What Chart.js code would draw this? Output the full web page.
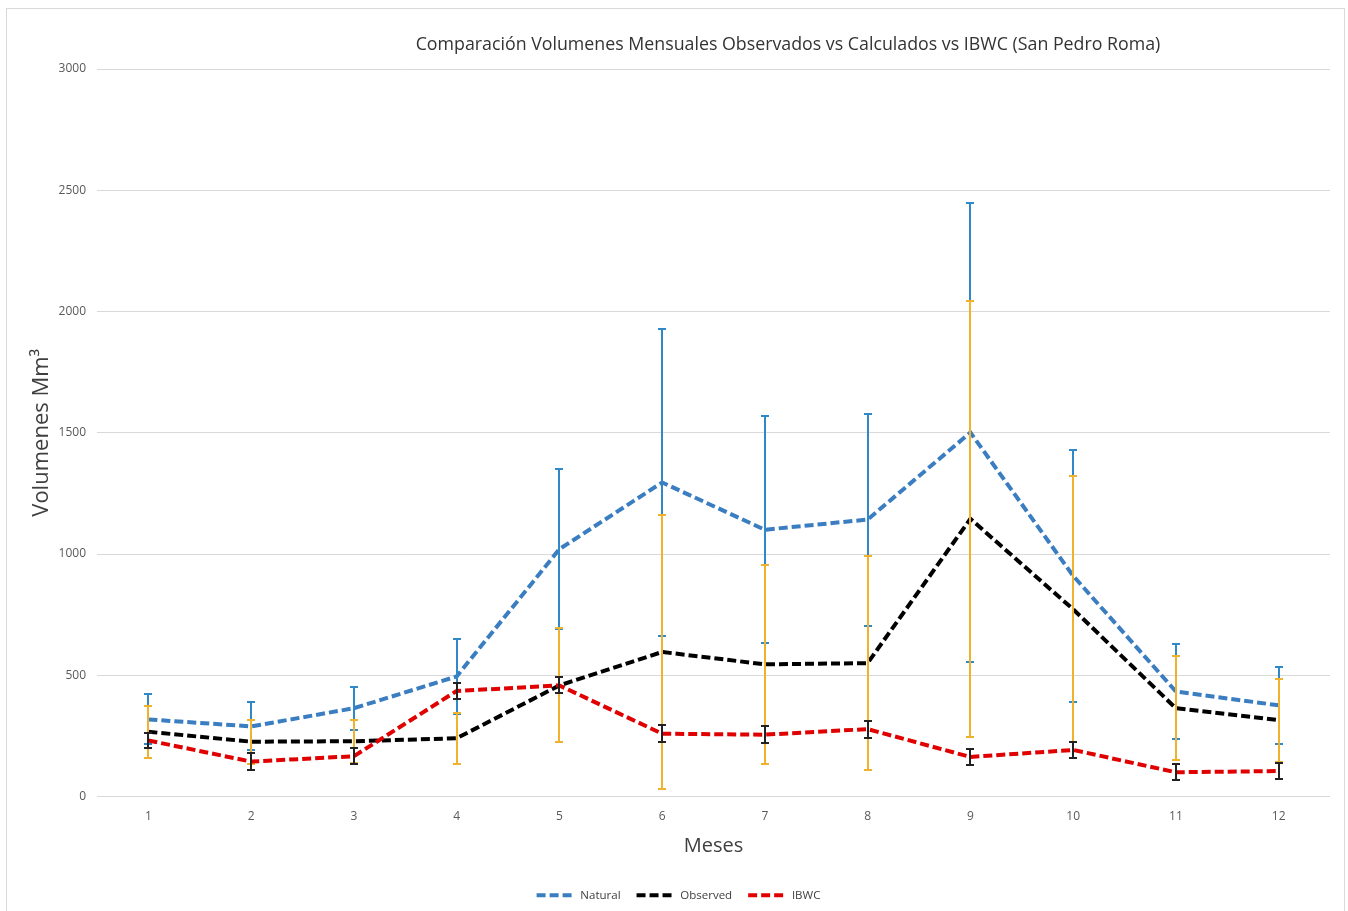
<!DOCTYPE html>
<html>
<head>
<meta charset="utf-8">
<script src="https://cdn.jsdelivr.net/npm/chart.js@4.4.1/dist/chart.umd.min.js"></script>
<style>
  html, body { margin: 0; padding: 0; background: #ffffff; }
  #wrap { position: relative; width: 1348px; height: 911px; }
</style>
</head>
<body>
<div id="wrap"><canvas id="chart" width="1348" height="911"></canvas></div>
<script>
// Monthly volumes (Mm³) for San Pedro Roma
const months = ['1', '2', '3', '4', '5', '6', '7', '8', '9', '10', '11', '12'];
const natural = [318, 289, 364, 495, 1020, 1295, 1100, 1142, 1501, 910, 433, 376];
const naturalErr = [103, 99, 89, 153, 330, 632, 468, 437, 945, 520, 197, 159];
const observed = [267, 226, 228, 240, 458, 596, 545, 550, 1145, 772, 364, 315];
const observedErr = [108, 90, 88, 106, 235, 565, 410, 440, 900, 548, 215, 171];
const ibwc = [231, 144, 166, 435, 458, 259, 255, 278, 163, 192, 100, 105];
const ibwcErr = [31, 36, 32, 32, 33, 34, 34, 35, 32, 33, 33, 32];
const yTicks = [0, 500, 1000, 1500, 2000, 2500, 3000];

const titleText = 'Comparación Volumenes Mensuales Observados vs Calculados vs IBWC (San Pedro Roma)';
const FONT = '"Open Sans", "Liberation Sans", sans-serif';

// Outer frame and chart title
const framePlugin = {
  id: 'frame',
  beforeDraw(chart) {
    const ctx = chart.ctx;
    ctx.save();
    ctx.fillStyle = '#ffffff';
    ctx.fillRect(0, 0, chart.width, chart.height);
    ctx.strokeStyle = '#d9d9d9';
    ctx.lineWidth = 1;
    ctx.strokeRect(6.5, 8.5, 1338, 940);
    ctx.restore();
  },
  afterDraw(chart) {
    const ctx = chart.ctx;
    ctx.save();
    ctx.font = '17.8px ' + FONT;
    ctx.fillStyle = '#333333';
    ctx.textAlign = 'center';
    ctx.textBaseline = 'middle';
    ctx.fillText(titleText, 788, 45);
    ctx.restore();
  }
};

// Vertical error bars with caps, drawn right after each line
const errorBarPlugin = {
  id: 'errorBars',
  afterDatasetDraw(chart, args) {
    const ds = chart.data.datasets[args.index];
    if (!ds.errors) return;
    const meta = chart.getDatasetMeta(args.index);
    if (meta.hidden) return;
    const x = chart.scales.x, y = chart.scales.y;
    const ctx = chart.ctx;
    ctx.save();
    ctx.strokeStyle = ds.errorColor;
    ctx.lineWidth = 2;
    ctx.setLineDash([]);
    ds.data.forEach((v, i) => {
      const e = ds.errors[i];
      const px = Math.round(x.getPixelForValue(i));
      const top = Math.round(y.getPixelForValue(v + e));
      const bot = Math.round(y.getPixelForValue(v - e));
      ctx.beginPath();
      ctx.moveTo(px, top);
      ctx.lineTo(px, bot);
      ctx.moveTo(px - 4, top);
      ctx.lineTo(px + 4, top);
      ctx.moveTo(px - 4, bot);
      ctx.lineTo(px + 4, bot);
      ctx.stroke();
    });
    ctx.restore();
  }
};

const lineStyle = {
  borderWidth: 4,
  borderDash: [9, 4],
  pointRadius: 0,
  pointHoverRadius: 0,
  tension: 0,
  fill: false
};

new Chart(document.getElementById('chart'), {
  type: 'line',
  data: {
    labels: months,
    datasets: [
      Object.assign({ label: 'Natural', data: natural, errors: naturalErr, order: 3,
        borderColor: '#3a7dc0', backgroundColor: '#3a7dc0', errorColor: '#2f88c8' }, lineStyle),
      Object.assign({ label: 'Observed', data: observed, errors: observedErr, order: 2,
        borderColor: '#000000', backgroundColor: '#000000', errorColor: '#f0b12c' }, lineStyle),
      Object.assign({ label: 'IBWC', data: ibwc, errors: ibwcErr, order: 1,
        borderColor: '#e00000', backgroundColor: '#e00000', errorColor: '#222222' }, lineStyle)
    ]
  },
  options: {
    responsive: false,
    animation: false,
    devicePixelRatio: 1,
    layout: { padding: { top: 69, right: 18, bottom: 0, left: 27 } },
    plugins: {
      title: { display: false },
      tooltip: { enabled: false },
      legend: {
        position: 'bottom',
        labels: {
          usePointStyle: true,
          pointStyle: 'line',
          pointStyleWidth: 38,
          boxHeight: 12,
          padding: 16,
          color: '#404040',
          font: { family: FONT, size: 11.5 },
          generateLabels(chart) {
            return chart.data.datasets.map((ds, i) => ({
              text: ds.label,
              datasetIndex: i,
              fillStyle: ds.borderColor,
              strokeStyle: ds.borderColor,
              fontColor: '#404040',
              lineWidth: ds.borderWidth,
              lineDash: ds.borderDash,
              lineCap: 'butt',
              pointStyle: 'line',
              hidden: !chart.isDatasetVisible(i)
            }));
          }
        }
      }
    },
    scales: {
      x: {
        type: 'category',
        offset: true,
        grid: { display: false, drawTicks: false },
        border: { display: false },
        ticks: { color: '#595959', padding: 13, font: { family: FONT, size: 12 }, maxRotation: 0 },
        title: { display: true, text: 'Meses', color: '#404040', font: { family: FONT, size: 20 }, padding: { top: 0, bottom: 15 } },
        afterFit(scale) { scale.height = 77; }
      },
      y: {
        min: 0,
        max: 3000,
        afterBuildTicks(scale) { scale.ticks = yTicks.map(v => ({ value: v })); },
        grid: { color: '#d9d9d9', lineWidth: 1, drawTicks: false },
        border: { display: false },
        ticks: { color: '#595959', padding: 11, font: { family: FONT, size: 12 }, callback: (v) => String(v) },
        title: { display: true, text: 'Volumenes Mm³', color: '#404040', font: { family: FONT, size: 22 }, padding: { top: 2, bottom: 0 } },
        afterFit(scale) { scale.width = 70; }
      }
    }
  },
  plugins: [framePlugin, errorBarPlugin]
});
</script>
</body>
</html>
